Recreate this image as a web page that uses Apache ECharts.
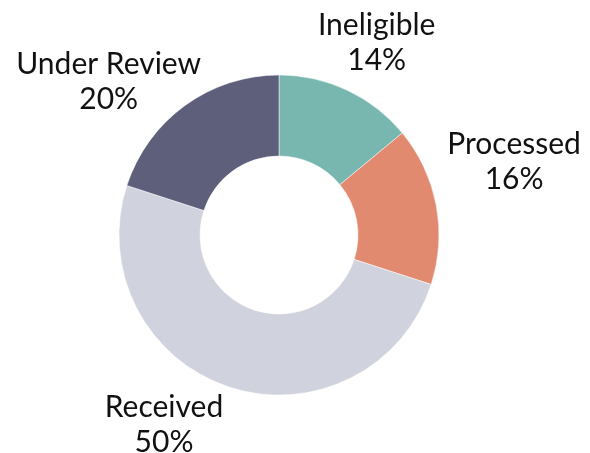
<!DOCTYPE html>
<html>
<head>
<meta charset="utf-8">
<script src="https://cdn.jsdelivr.net/npm/echarts@6/dist/echarts.min.js"></script>
<style>
html,body{margin:0;padding:0;background:#fff;}
#chart{width:590px;height:453px;}
</style>
</head>
<body>
<div id="chart"></div>
<script>
const categories = ['Ineligible', 'Processed', 'Received', 'Under Review'];
const values = [14, 16, 50, 20];
const colors = ['#78b7af', '#e18a70', '#d0d2dd', '#5e607b'];

// label nudges (px) relative to a radial anchor
const labelDist = 220;
const labelNudge = [[4, 7], [19, -32], [-47, -19], [-41, 25]];

const cx = 279, cy = 235;
const total = values.reduce((a, b) => a + b, 0);
const mids = [];
let acc = 0;
values.forEach(v => { mids.push((acc + v / 2) / total * 2 * Math.PI); acc += v; });

const chart = echarts.init(document.getElementById('chart'));
chart.setOption({
  animation: false,
  series: [{
    type: 'pie',
    center: [cx, cy],
    radius: [79, 160],
    startAngle: 90,
    clockwise: true,
    data: categories.map((c, i) => ({ name: c, value: values[i], itemStyle: { color: colors[i] } })),
    itemStyle: { borderColor: '#fff', borderWidth: 0.5 },
    label: {
      show: true,
      position: 'outside',
      formatter: p => p.name + '\n' + p.value + '%',
      fontFamily: 'Lato',
      fontSize: 30,
      lineHeight: 35,
      color: '#111',
      align: 'center',
      overflow: 'none',
      width: 300
    },
    labelLine: { show: false },
    labelLayout: function (params) {
      const i = params.dataIndex;
      const a = mids[i];
      return {
        x: cx + labelDist * Math.sin(a) + labelNudge[i][0],
        y: cy - labelDist * Math.cos(a) + labelNudge[i][1],
        align: 'center',
        verticalAlign: 'middle'
      };
    },
    emphasis: { disabled: true }
  }]
});
</script>
</body>
</html>
